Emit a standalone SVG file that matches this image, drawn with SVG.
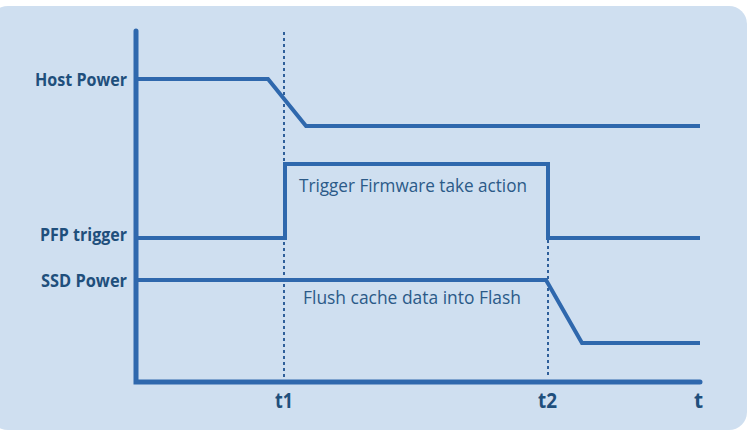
<svg xmlns="http://www.w3.org/2000/svg" width="753" height="441" viewBox="0 0 753 441">
<style>
.sig{fill:none;stroke:#2f68ad;stroke-width:4;stroke-linejoin:miter}
.axis{fill:none;stroke:#2f68ad;stroke-width:5;stroke-linecap:round}
.dot{stroke:#2f5f9a;stroke-width:2;stroke-dasharray:3 3}
.lbl{font-family:"Open Sans","Liberation Sans",sans-serif;font-weight:bold;font-size:18.5px;fill:#1f4f7c}
.tk{font-family:"Open Sans","Liberation Sans",sans-serif;font-weight:bold;font-size:21px;fill:#1f4f7c}
.note{font-family:"Open Sans","Liberation Sans",sans-serif;font-size:18px;fill:#2b5a88}
</style>
<rect width="753" height="441" fill="#ffffff"/>
<rect x="-10" y="6" width="757" height="424" rx="18" fill="#cfdff0"/>
<g id="connectors">
<line class="dot" x1="284" y1="32" x2="284" y2="380"/>
<line class="dot" x1="548" y1="240" x2="548" y2="378"/>
<polyline class="sig" points="136,79 268,79 306,126 700,126"/>
<polyline class="sig" points="136,238 285,238 285,164 548,164 548,238 700,238"/>
<polyline class="sig" points="136,280 546,280 582,343 700,343"/>
<polyline class="axis" points="136,31 136,382 700,382"/>
</g>
<g id="host-power"><text class="lbl" x="35" y="86" textLength="92" lengthAdjust="spacingAndGlyphs">Host Power</text></g>
<g id="pfp-trigger"><text class="lbl" x="40" y="241" textLength="87" lengthAdjust="spacingAndGlyphs">PFP trigger</text></g>
<g id="ssd-power"><text class="lbl" x="41" y="287" textLength="86" lengthAdjust="spacingAndGlyphs">SSD Power</text></g>
<g id="trigger-note"><text class="note" x="299" y="192" textLength="228" lengthAdjust="spacingAndGlyphs">Trigger Firmware take action</text></g>
<g id="flush-note"><text class="note" x="303" y="304" textLength="218" lengthAdjust="spacingAndGlyphs">Flush cache data into Flash</text></g>
<g id="t1"><text class="tk" x="275" y="408" textLength="18" lengthAdjust="spacingAndGlyphs">t1</text></g>
<g id="t2"><text class="tk" x="538" y="408" textLength="19" lengthAdjust="spacingAndGlyphs">t2</text></g>
<g id="t"><text class="tk" x="694" y="408">t</text></g>
</svg>
